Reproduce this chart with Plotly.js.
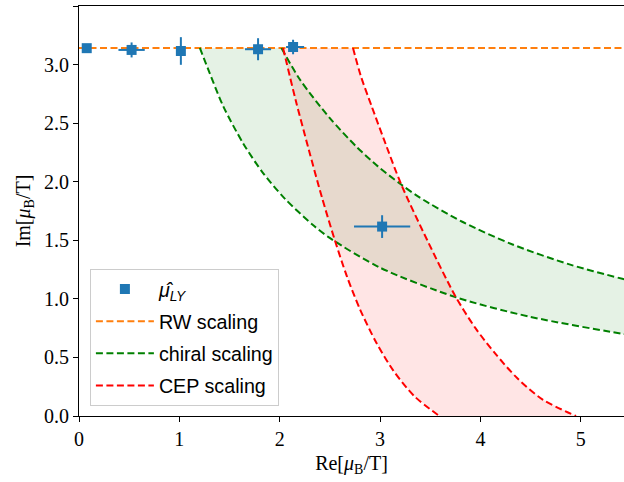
<!DOCTYPE html>
<html>
<head>
<meta charset="utf-8">
<script src="https://cdn.plot.ly/plotly-3.0.1.min.js"></script>
<style>html,body{margin:0;padding:0;background:#fff;}#chart{width:624px;height:482px;}</style>
</head>
<body>
<div id="chart"></div>
<script>
// ---- data ----
const lyX      = [0.077, 0.524, 1.015, 1.784, 2.133, 3.02];
const lyY      = [3.14, 3.125, 3.116, 3.131, 3.15, 1.617];
const lyXerrP  = [0.02, 0.131, 0.04, 0.13, 0.11, 0.28];
const lyXerrM  = [0.02, 0.131, 0.04, 0.13, 0.07, 0.28];
const lyYerr   = [0.02, 0.064, 0.118, 0.094, 0.062, 0.097];

const rwX = [0, 5.43];
const rwY = [3.1416, 3.1416];

const chiralOuterX = [1.204, 1.303, 1.436, 1.635, 1.834, 2.05, 2.331, 2.498, 2.995, 3.758, 4.488, 5.423, 5.45];
const chiralOuterY = [3.1416, 2.925, 2.646, 2.328, 2.074, 1.856, 1.63, 1.520, 1.268, 1.013, 0.848, 0.70, 0.697];
const chiralInnerX = [2.017, 2.199, 2.497, 2.763, 2.978, 3.21, 3.393, 3.824, 4.32, 4.886, 5.423, 5.45];
const chiralInnerY = [3.1416, 2.875, 2.545, 2.30, 2.131, 1.976, 1.866, 1.656, 1.464, 1.294, 1.169, 1.163];

const cepLeftX  = [2.033, 2.159, 2.289, 2.418, 2.547, 2.67, 2.80, 2.96, 3.13, 3.34, 3.59];
const cepLeftY  = [3.1416, 2.695, 2.275, 1.873, 1.506, 1.19, 0.91, 0.63, 0.39, 0.17, 0.0];
const cepRightX = [2.73, 2.809, 2.915, 3.038, 3.211, 3.47, 3.751, 3.95, 4.15, 4.37, 4.62, 4.952];
const cepRightY = [3.1416, 2.90, 2.646, 2.361, 1.976, 1.50, 1.021, 0.75, 0.53, 0.32, 0.14, 0.0];

const xTickVals = [0, 1, 2, 3, 4, 5];
const xTickText = ['0', '1', '2', '3', '4', '5'];
const yTickVals = [0, 0.5, 1, 1.5, 2, 2.5, 3, 3.5];
const yTickText = ['0.0', '0.5', '1.0', '1.5', '2.0', '2.5', '3.0', '3.5'];

// ---- build fill polygons from the curves ----
const greenPolyX = chiralInnerX.concat(chiralOuterX.slice().reverse());
const greenPolyY = chiralInnerY.concat(chiralOuterY.slice().reverse());
const redPolyX = cepLeftX.concat(cepRightX.slice().reverse());
const redPolyY = cepLeftY.concat(cepRightY.slice().reverse());

const dashPat = '7px,3.5px';
const traces = [
  {x: greenPolyX, y: greenPolyY, mode: 'lines', fill: 'toself', fillcolor: 'rgba(0,128,0,0.1)',
   line: {width: 0, color: 'rgba(0,0,0,0)'}, showlegend: false, hoverinfo: 'skip'},
  {x: redPolyX, y: redPolyY, mode: 'lines', fill: 'toself', fillcolor: 'rgba(255,0,0,0.1)',
   line: {width: 0, color: 'rgba(0,0,0,0)'}, showlegend: false, hoverinfo: 'skip'},
  {x: rwX, y: rwY, mode: 'lines', name: 'RW scaling', legendrank: 2, legendgroup: 'b',
   line: {color: '#ff7f0e', width: 2, dash: dashPat}},
  {x: chiralOuterX, y: chiralOuterY, mode: 'lines', name: 'chiral scaling', legendrank: 3, legendgroup: 'c',
   line: {color: '#008000', width: 2, dash: dashPat, shape: 'spline', smoothing: 0.8}},
  {x: chiralInnerX, y: chiralInnerY, mode: 'lines', name: 'chiral scaling', showlegend: false, legendgroup: 'c',
   line: {color: '#008000', width: 2, dash: dashPat, shape: 'spline', smoothing: 0.8}},
  {x: cepLeftX, y: cepLeftY, mode: 'lines', name: 'CEP scaling', legendrank: 4, legendgroup: 'd',
   line: {color: '#ff0000', width: 2, dash: dashPat, shape: 'spline', smoothing: 0.8}},
  {x: cepRightX, y: cepRightY, mode: 'lines', name: 'CEP scaling', showlegend: false, legendgroup: 'd',
   line: {color: '#ff0000', width: 2, dash: dashPat, shape: 'spline', smoothing: 0.8}},
  {x: lyX, y: lyY, mode: 'markers', name: '<i>μ̂</i><sub><i>LY</i></sub>', legendrank: 1, legendgroup: 'a',
   marker: {symbol: 'square', size: 10, color: '#1f77b4'},
   error_x: {type: 'data', array: lyXerrP, arrayminus: lyXerrM, symmetric: false, color: '#1f77b4', thickness: 2, width: 0},
   error_y: {type: 'data', array: lyYerr, color: '#1f77b4', thickness: 2, width: 0}}
];

const serif = 'Liberation Serif, DejaVu Serif, serif';
const layout = {
  width: 624, height: 482,
  margin: {l: 79, r: 0, t: 6, b: 66},
  paper_bgcolor: '#fff', plot_bgcolor: '#fff',
  font: {family: serif, size: 20, color: '#000'},
  showlegend: true,
  legend: {x: 0.02, y: 0.025, xanchor: 'left', yanchor: 'bottom',
           bgcolor: 'rgba(255,255,255,0.8)', bordercolor: '#cccccc', borderwidth: 1,
           font: {family: 'Liberation Sans, Arial, sans-serif', size: 19.7, color: '#000'},
           tracegroupgap: 3.5, itemwidth: 58},
  xaxis: {range: [0, 5.43], tickvals: xTickVals, ticktext: xTickText, ticks: 'outside', ticklen: 5,
          tickwidth: 1, tickcolor: '#000', showline: true, linecolor: '#000', linewidth: 1, mirror: true,
          showgrid: false, zeroline: false, tickfont: {family: serif, size: 20},
          title: {text: 'Re[<i>μ</i><sub>B</sub>/T]', font: {family: serif, size: 20}, standoff: 6}},
  yaxis: {range: [0, 3.5], tickvals: yTickVals, ticktext: yTickText, ticks: 'outside', ticklen: 5,
          tickwidth: 1, tickcolor: '#000', showline: true, linecolor: '#000', linewidth: 1, mirror: false,
          showgrid: false, zeroline: false, tickfont: {family: serif, size: 20},
          title: {text: 'Im[<i>μ</i><sub>B</sub>/T]', font: {family: serif, size: 20}, standoff: 8}}
};
Plotly.newPlot('chart', traces, layout, {staticPlot: true});
</script>
</body>
</html>
